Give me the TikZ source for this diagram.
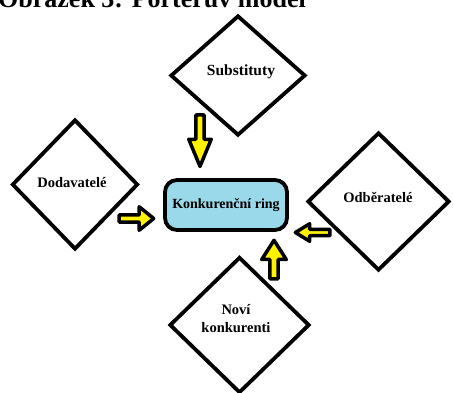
\documentclass[tikz,border=0pt]{standalone}
\usepackage{fontspec}
\setmainfont{Liberation Serif}
\usetikzlibrary{shapes.geometric,shapes.arrows}
\definecolor{ringblue}{RGB}{153,217,234}
\begin{document}
\begin{tikzpicture}[x=1pt,y=-1pt,
  force/.style={shape=diamond,draw=black,line width=3.8pt,inner sep=0pt,line join=miter},
  lbl/.style={font=\bfseries\fontsize{14.5}{18}\selectfont,align=center,inner sep=0pt},
  push/.style={single arrow,draw=black,fill=yellow,line width=3.5pt,inner sep=0pt,
    line join=round,anchor=tip},
  ringbox/.style={draw=black,fill=ringblue,line width=3.8pt,rounded corners=12pt,
    minimum width=122pt,minimum height=50pt,inner sep=0pt,
    font=\bfseries\fontsize{14}{17}\selectfont}
]
\useasboundingbox (0,0) rectangle (453,392);

% heading, partly above the page edge
\node[anchor=base west,inner sep=0pt,font=\bfseries\fontsize{26}{30}\selectfont]
  (title) at (-2,7) {Obrázek 3: Porterův model};

% the four forces
\node[force,minimum width=135pt,minimum height=120pt] (sub) at (238,75.5) {};
\node[force,minimum width=126pt,minimum height=130pt] (dod) at (75,184.5) {};
\node[force,minimum width=142pt,minimum height=138pt] (odb) at (378.5,201.5) {};
\node[force,minimum width=140pt,minimum height=136pt] (nov) at (239.5,325) {};

\node[lbl,font=\bfseries\fontsize{15.5}{18}\selectfont] (subtext) at (241,72) {Substituty};
\node[lbl] (dodtext) at (72,183) {Dodavatelé};
\node[lbl] (odbtext) at (378,197) {Odběratelé};
\node[lbl] (novtext) at (236,319) {Noví\\konkurenti};

% centre
\node[ringbox] (ring) at (226,205) {Konkurenční ring};

% block arrows pointing at the centre
\node[push,shape border rotate=270,minimum height=51.5pt,minimum width=22.5pt,
  single arrow head extend=3pt,single arrow tip angle=45] (pdown) at (200,171) {};
\node[push,shape border rotate=0,minimum height=34.5pt,minimum width=23.5pt,
  single arrow head extend=4pt,single arrow tip angle=78] (pright) at (156.5,218.5) {};
\node[push,shape border rotate=180,minimum height=34.5pt,minimum width=17.5pt,
  single arrow head extend=3pt,single arrow tip angle=63] (pleft) at (292,232.5) {};
\node[push,shape border rotate=90,minimum height=38.5pt,minimum width=24.5pt,
  single arrow head extend=3.5pt,single arrow tip angle=65] (pup) at (274,237) {};
\end{tikzpicture}
\end{document}
